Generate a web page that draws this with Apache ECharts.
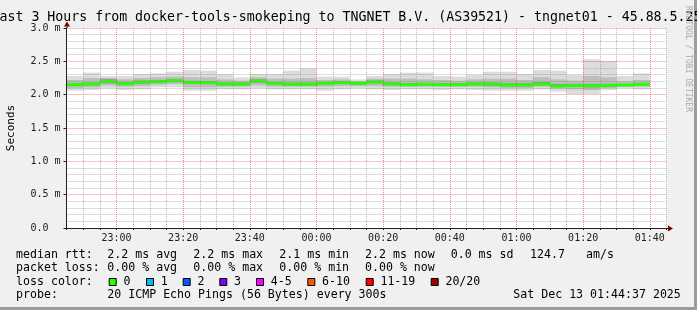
<!DOCTYPE html>
<html><head><meta charset="utf-8">
<script src="https://cdn.jsdelivr.net/npm/echarts@6/dist/echarts.min.js"></script>
<style>html,body{margin:0;padding:0;background:#f0f0f0}#c{width:697px;height:310px}</style>
</head><body><div id="c"></div>
<script>
// 5-minute steps (start times)
const stepStart = ['22:45','22:50','22:55','23:00','23:05','23:10','23:15','23:20','23:25','23:30','23:35','23:40',
  '23:45','23:50','23:55','00:00','00:05','00:10','00:15','00:20','00:25','00:30','00:35','00:40',
  '00:45','00:50','00:55','01:00','01:05','01:10','01:15','01:20','01:25','01:30','01:35'];
// RTT in ms
const rttMin  = [2.06,2.07,2.095,2.07,2.08,2.11,2.11,2.06,2.06,2.08,2.08,2.095,2.08,2.08,2.08,2.06,2.08,2.095,2.08,2.07,2.08,2.08,2.07,2.08,2.07,2.06,2.06,2.06,2.08,2.045,2.01,2.01,2.07,2.095,2.08];
const rttLo1  = [2.10,2.11,2.14,2.12,2.13,2.15,2.16,2.11,2.11,2.12,2.12,2.14,2.12,2.12,2.12,2.12,2.13,2.13,2.13,2.12,2.12,2.12,2.12,2.12,2.12,2.11,2.10,2.10,2.12,2.09,2.08,2.07,2.10,2.12,2.12];
const rttLo2  = [2.13,2.14,2.17,2.15,2.165,2.175,2.19,2.16,2.16,2.14,2.14,2.18,2.15,2.14,2.14,2.15,2.16,2.155,2.17,2.145,2.135,2.14,2.135,2.135,2.14,2.135,2.125,2.125,2.14,2.115,2.12,2.11,2.12,2.13,2.14];
const rttMed  = [2.15,2.16,2.20,2.165,2.19,2.195,2.21,2.185,2.18,2.16,2.16,2.205,2.17,2.155,2.155,2.17,2.18,2.17,2.19,2.16,2.15,2.155,2.15,2.15,2.16,2.16,2.145,2.145,2.16,2.13,2.14,2.135,2.14,2.145,2.155];
const rttHi2  = [2.17,2.18,2.23,2.19,2.21,2.22,2.23,2.20,2.20,2.18,2.18,2.23,2.19,2.18,2.18,2.19,2.20,2.185,2.21,2.18,2.17,2.17,2.17,2.17,2.18,2.18,2.17,2.17,2.19,2.16,2.16,2.16,2.16,2.16,2.17];
const rttHi1  = [2.22,2.25,2.25,2.23,2.25,2.26,2.27,2.26,2.26,2.23,2.21,2.26,2.24,2.24,2.25,2.22,2.23,2.20,2.24,2.24,2.24,2.23,2.22,2.21,2.23,2.24,2.24,2.22,2.26,2.23,2.21,2.28,2.26,2.20,2.22];
const rttMax  = [2.28,2.33,2.28,2.28,2.31,2.32,2.345,2.37,2.36,2.31,2.26,2.31,2.31,2.36,2.395,2.27,2.27,2.23,2.28,2.31,2.33,2.33,2.28,2.27,2.295,2.345,2.345,2.31,2.37,2.36,2.295,2.53,2.505,2.28,2.32];
const xTickLabels = ['23:00','23:20','23:40','00:00','00:20','00:40','01:00','01:20','01:40'];
const yTickLabels = ['0.0  ','0.5 m','1.0 m','1.5 m','2.0 m','2.5 m','3.0 m'];
const lossLabels = ['0','1','2','3','4-5','6-10','11-19','20/20'];
const lossColors = ['#26ff00','#00b8ff','#0059ff','#7e00ff','#ff00ff','#ff5500','#ff0000','#a10000'];

const T0 = 22*60+45; // axis origin 22:45
function toMin(s){ const [h,m]=s.split(':').map(Number); let t=h*60+m-T0; if(t<0) t+=1440; return t; }
function fmtMin(v){ let t=(T0+Math.round(v))%1440; const h=Math.floor(t/60), m=t%60; return String(h).padStart(2,'0')+':'+String(m).padStart(2,'0'); }

const chart = echarts.init(document.getElementById('c'), null, {renderer:'canvas'});
const FONT = '"DejaVu Sans Mono", monospace';

function band(lo, hi, color, z){
  return {
    type:'custom', z:z, silent:true, animation:false,
    data: stepStart.map((s,i)=>[toMin(s), lo[i], hi[i]]),
    encode:{x:0, y:[1,2]},
    renderItem:function(params, api){
      const x0=api.value(0), a=api.value(1), b=api.value(2);
      const p0=api.coord([x0,b]), p1=api.coord([x0+5,a]);
      return {type:'rect', shape:{x:p0[0], y:p0[1], width:p1[0]-p0[0], height:p1[1]-p0[1]}, style:{fill:color}};
    }
  };
}
const medianSeries = {
  type:'custom', z:1.5, silent:true, animation:false,
  data: stepStart.map((s,i)=>[toMin(s), rttMed[i]]),
  encode:{x:0,y:1},
  renderItem:function(params, api){
    const x0=api.value(0), m=api.value(1);
    const p0=api.coord([x0,m]), p1=api.coord([x0+5,m]);
    return {type:'rect', shape:{x:p0[0], y:p0[1]-1.5, width:p1[0]-p0[0], height:3}, style:{fill:lossColors[0]}};
  }
};

const grayMinor = 'rgba(140,140,140,0.6)';
const redMajor = 'rgba(220,60,60,0.6)';

const texts = [];
function txt(x,y,s,size,opts){
  texts.push(Object.assign({type:'text', silent:true, z:10, x:x, y:y,
    style:{text:s, font:size+'px '+FONT, fill:'#000', align:'left', verticalAlign:'middle'}}, opts||{}));
}
// title
txt(-8.5, 18, 'Last 3 Hours from docker-tools-smokeping to TNGNET B.V. (AS39521) - tngnet01 - 45.88.5.25', 13.25);
// watermark
texts.push({type:'text', silent:true, z:10, x:688, y:59, rotation:-Math.PI/2,
  style:{text:'RRDTOOL / TOBI OETIKER', font:'8px '+FONT, fill:'#a8a8a8', align:'center', verticalAlign:'middle'}});
const LF = 11.6;
const r1=254.5, r2=268, r3=281.7, r4=295.3;
txt(16, r1, 'median rtt:', LF);
txt(107.3, r1, '2.2 ms avg', LF);
txt(193.3, r1, '2.2 ms max', LF);
txt(279.3, r1, '2.1 ms min', LF);
txt(365, r1, '2.2 ms now', LF);
txt(450.7, r1, '0.0 ms sd', LF);
txt(530, r1, '124.7', LF);
txt(586, r1, 'am/s', LF);
txt(16, r2, 'packet loss:', LF);
txt(107.3, r2, '0.00 % avg', LF);
txt(193.3, r2, '0.00 % max', LF);
txt(279.3, r2, '0.00 % min', LF);
txt(365, r2, '0.00 % now', LF);
txt(16, r3, 'loss color:', LF);
const boxX = [108.7,146,182.7,219.3,256,307.3,365.7,430.7];
lossLabels.forEach((l,i)=>{
  texts.push({type:'rect', silent:true, z:10, shape:{x:boxX[i]+0.5, y:278.5, width:7, height:7},
    style:{fill:lossColors[i], stroke:'#000', lineWidth:1}});
  txt(boxX[i]+14.7, r3, l, LF);
});
txt(16, r4, 'probe:', LF);
txt(107.3, r4, '20 ICMP Echo Pings (56 Bytes) every 300s', LF);
txt(513.3, r4, 'Sat Dec 13 01:44:37 2025', LF);
// frame shading
texts.push({type:'rect', silent:true, z:0, shape:{x:694, y:0, width:3, height:310}, style:{fill:'#9c9c9c'}});
texts.push({type:'rect', silent:true, z:0, shape:{x:0, y:307, width:697, height:3}, style:{fill:'#9c9c9c'}});

chart.setOption({
  backgroundColor:'#f0f0f0',
  animation:false,
  grid:{left:66.5, top:28, width:600, height:200, show:true, backgroundColor:'#ffffff', borderWidth:0,
        containLabel:false, outerBoundsMode:'none'},
  xAxis:{
    type:'value', min:0, max:180, interval:5, z:3,
    axisLine:{show:true, onZero:false, lineStyle:{color:'#202020', width:1}},
    axisTick:{show:true, length:2, lineStyle:{color:'#202020'}},
    axisLabel:{show:true, margin:5, color:'#202020', fontFamily:FONT, fontSize:10,
      formatter:function(v){ const s=fmtMin(v); return xTickLabels.indexOf(s)>=0 ? s : ''; }},
    splitLine:{show:true, lineStyle:{type:'dotted', width:1,
      color:[grayMinor,grayMinor,grayMinor,redMajor]}}
  },
  yAxis:[{
    type:'value', min:0, max:3, interval:0.1, z:3,
    name:'Seconds', nameLocation:'middle', nameGap:50,
    nameTextStyle:{fontFamily:FONT, fontSize:11, color:'#000'},
    axisLine:{show:true, onZero:false, lineStyle:{color:'#202020', width:1}},
    axisTick:{show:false},
    axisLabel:{show:true, margin:6, color:'#202020', fontFamily:FONT, fontSize:10,
      formatter:function(v){ const k=Math.round(v*10); return k%5===0 ? yTickLabels[k/5] : ''; }},
    splitLine:{show:true, lineStyle:{type:'dotted', width:1,
      color:[redMajor,grayMinor,grayMinor,grayMinor,grayMinor]}}
  },{
    type:'value', min:0, max:3, interval:0.5, position:'left', z:3,
    axisLine:{show:false}, axisLabel:{show:false}, splitLine:{show:false},
    axisTick:{show:true, length:3, lineStyle:{color:'#202020'}}
  }],
  series:[
    band(rttMin, rttMax, '#dcdcdc', 1),
    band(rttLo1, rttHi1, '#bdbdbd', 1.1),
    band(rttLo2, rttHi2, '#8e8e8e', 1.2),
    medianSeries
  ],
  graphic: texts
});

// axis arrows
const o = chart.convertToPixel({gridIndex:0}, [0,0]);
const tr = chart.convertToPixel({gridIndex:0}, [180,3]);
const extra = [
  {type:'line', silent:true, z:10, shape:{x1:tr[0], y1:o[1]+0.5, x2:tr[0]+2, y2:o[1]+0.5}, style:{stroke:'#202020', lineWidth:1}},
  {type:'polygon', silent:true, z:10, shape:{points:[[tr[0]+1.5,o[1]-2.5],[tr[0]+6.5,o[1]+0.5],[tr[0]+1.5,o[1]+3.5]]}, style:{fill:'#800000'}},
  {type:'line', silent:true, z:10, shape:{x1:o[0]+0.5, y1:tr[1], x2:o[0]+0.5, y2:tr[1]-2}, style:{stroke:'#202020', lineWidth:1}},
  {type:'polygon', silent:true, z:10, shape:{points:[[o[0]-2.5,tr[1]-1.5],[o[0]+0.5,tr[1]-6.5],[o[0]+3.5,tr[1]-1.5]]}, style:{fill:'#800000'}}
];
chart.setOption({graphic: texts.concat(extra)});
</script></body></html>
